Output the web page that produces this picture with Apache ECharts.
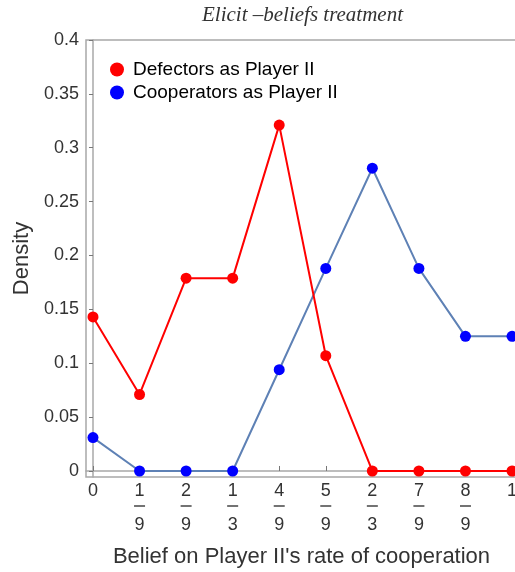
<!DOCTYPE html>
<html>
<head>
<meta charset="utf-8">
<script src="https://cdn.jsdelivr.net/npm/echarts@6/dist/echarts.min.js"></script>
<style>html,body{margin:0;padding:0;background:#fff;}#c{width:515px;height:572px;}</style>
</head>
<body>
<div id="c"></div>
<script>
const tickLabels = ['0','1/9','2/9','1/3','4/9','5/9','2/3','7/9','8/9','1'];
const defectors = [0.143, 0.071, 0.179, 0.179, 0.321, 0.107, 0, 0, 0, 0];
const cooperators = [0.031, 0, 0, 0, 0.094, 0.188, 0.281, 0.188, 0.125, 0.125];
const yTicks = [0, 0.05, 0.1, 0.15, 0.2, 0.25, 0.3, 0.35, 0.4];

const xPos = tickLabels.map((_, i) => i);
const chart = echarts.init(document.getElementById('c'), null, {renderer: 'canvas'});
const axisGray = '#a8a8a8';
const txt = '#333';
chart.setOption({
  animation: false,
  title: {
    text: 'Elicit \u2013beliefs treatment',
    left: 202, top: 5, padding: 0,
    textStyle: {fontFamily: 'Liberation Serif', fontStyle: 'italic', fontWeight: 'normal', fontSize: 21, color: '#333'}
  },
  legend: {
    orient: 'vertical', left: 110, top: 60, padding: 0,
    icon: 'circle', itemWidth: 14, itemHeight: 14, itemGap: 4,
    textStyle: {fontFamily: 'Liberation Sans', fontSize: 19, color: '#000', padding: [0, 0, 0, 4]},
    data: ['Defectors as Player II', 'Cooperators as Player II']
  },
  grid: {left: 86, top: 40, right: -2, bottom: 95, show: true, borderColor: axisGray, borderWidth: 1.5,
         containLabel: false, outerBoundsMode: 'none'},
  xAxis: {
    type: 'value', min: -0.15, max: 9.107,
    name: "Belief on Player II's rate of cooperation", nameLocation: 'middle', nameGap: 69,
    nameTextStyle: {fontFamily: 'Liberation Sans', fontSize: 22, color: txt},
    axisLine: {show: true, lineStyle: {color: axisGray, width: 1.5}},
    axisTick: {show: true, inside: true, length: 5, customValues: xPos, lineStyle: {color: '#777'}},
    splitLine: {show: false},
    axisLabel: {
      customValues: xPos, margin: 6, color: txt, fontFamily: 'Liberation Sans', fontSize: 18,
      formatter: function (v) {
        const s = tickLabels[Math.round(v)];
        if (s.indexOf('/') >= 0) {
          const p = s.split('/');
          return '{n|' + p[0] + '}\n{bar| }\n{d|' + p[1] + '}';
        }
        return '{n|' + s + '}';
      },
      rich: {
        n: {fontFamily: 'Liberation Sans', fontSize: 18, lineHeight: 16, color: txt},
        bar: {width: 11, height: 1.5, lineHeight: 14, backgroundColor: '#444', fontSize: 1},
        d: {fontFamily: 'Liberation Sans', fontSize: 18, lineHeight: 24, color: txt}
      }
    }
  },
  yAxis: {
    type: 'value', min: -0.00557, max: 0.4,
    name: 'Density', nameLocation: 'middle', nameGap: 52,
    nameTextStyle: {fontFamily: 'Liberation Sans', fontSize: 22, color: txt},
    axisLine: {show: true, lineStyle: {color: axisGray, width: 1.5}},
    axisTick: {show: true, inside: false, length: 4, customValues: yTicks, lineStyle: {color: '#777'}},
    splitLine: {show: false},
    axisLabel: {
      customValues: yTicks, margin: 7, color: txt, fontFamily: 'Liberation Sans', fontSize: 18,
      formatter: v => String(+v.toFixed(2))
    }
  },
  series: [
    {
      name: 'Defectors as Player II', type: 'line', z: 4,
      data: defectors.map((y, i) => [xPos[i], y]),
      symbol: 'circle', symbolSize: 11,
      itemStyle: {color: '#ff0000'},
      lineStyle: {color: '#ff0000', width: 2}
    },
    {
      name: 'Cooperators as Player II', type: 'line', z: 3,
      data: cooperators.map((y, i) => [xPos[i], y]),
      symbol: 'circle', symbolSize: 11,
      itemStyle: {color: '#0000ff'},
      lineStyle: {color: '#5e81b5', width: 2}
    }
  ]
});
</script>
</body>
</html>
